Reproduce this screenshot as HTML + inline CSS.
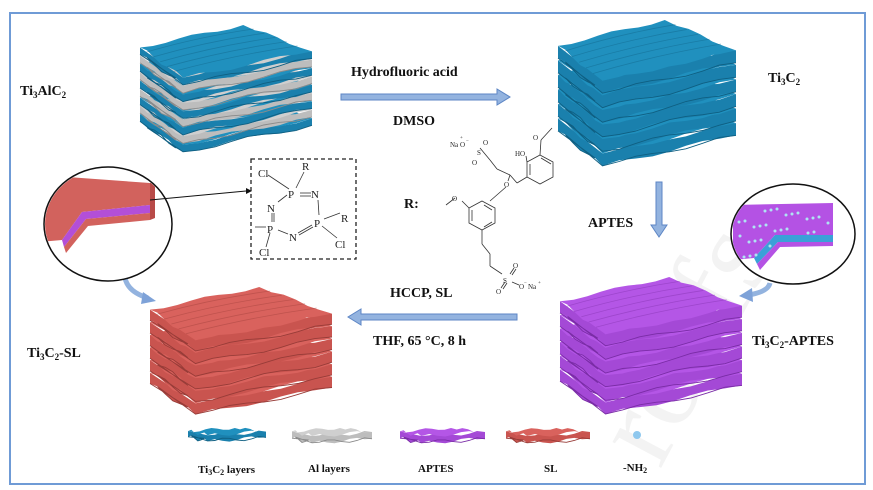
<!DOCTYPE html>
<html><head><meta charset="utf-8"><style>
html,body{margin:0;padding:0;background:#fff;}
svg{display:block;}
text{font-family:"Liberation Serif",serif;}
.b{font-weight:bold;font-size:14px;fill:#111;}
.s{font-family:"Liberation Sans",sans-serif;font-size:11px;fill:#222;}
.t{font-family:"Liberation Sans",sans-serif;font-size:7px;fill:#222;}
.lg{font-weight:bold;font-size:11px;fill:#111;}
</style></head><body>
<svg id="sv" width="873" height="490" viewBox="0 0 873 490" xmlns="http://www.w3.org/2000/svg">
<rect x="10" y="13" width="855" height="471" fill="#fff" stroke="#6f9bd6" stroke-width="2"/>
<text x="660" y="470" transform="rotate(-62 660 470)" font-family="Liberation Sans" font-size="120" fill="#f3f3f3">roofs</text>
<g id="stacks"></g>

<!-- labels -->
<text class="b" x="20" y="95">Ti<tspan font-size="9" dy="3">3</tspan><tspan dy="-3">AlC</tspan><tspan font-size="9" dy="3">2</tspan></text>
<text class="b" x="768" y="82">Ti<tspan font-size="9" dy="3">3</tspan><tspan dy="-3">C</tspan><tspan font-size="9" dy="3">2</tspan></text>
<text class="b" x="351" y="76">Hydrofluoric acid</text>
<text class="b" x="393" y="125">DMSO</text>
<text class="b" x="588" y="227">APTES</text>
<text class="b" x="390" y="297">HCCP, SL</text>
<text class="b" x="373" y="345">THF, 65 °C, 8 h</text>
<text class="b" x="27" y="357">Ti<tspan font-size="9" dy="3">3</tspan><tspan dy="-3">C</tspan><tspan font-size="9" dy="3">2</tspan><tspan dy="-3">-SL</tspan></text>
<text class="b" x="752" y="345">Ti<tspan font-size="9" dy="3">3</tspan><tspan dy="-3">C</tspan><tspan font-size="9" dy="3">2</tspan><tspan dy="-3">-APTES</tspan></text>
<text class="b" x="404" y="208" font-size="15">R:</text>

<!-- arrows -->
<g fill="#93b3df" stroke="#5d86c5" stroke-width="1">
<path d="M341,94 H497 V89 L510,97 L497,105 V100 H341 Z"/>
<path d="M517,314 H361 V309 L348,317 L361,325 V320 H517 Z"/>
<path d="M656,182 V225 H651 L659,237 L667,225 H662 V182 Z"/>
</g>
<path d="M125,278 Q128,292 148,298" fill="none" stroke="#93b3df" stroke-width="5"/>
<path d="M143,292 L156,301 L141,304 Z" fill="#7ea2d8"/>
<path d="M770,283 Q768,292 748,295" fill="none" stroke="#93b3df" stroke-width="5"/>
<path d="M752,288 L739,296 L753,302 Z" fill="#7ea2d8"/>

<!-- left circle -->
<ellipse cx="108" cy="224" rx="64" ry="57" fill="#fff" stroke="#111" stroke-width="1.5"/>
<clipPath id="c1"><ellipse cx="108" cy="224" rx="63" ry="56"/></clipPath>
<g clip-path="url(#c1)">
<path d="M40,175 L150,183 L150,205 L82,212 L62,240 L40,242 Z" fill="#d2625d"/>
<path d="M82,212 L150,205 L150,213 L86,219 L64,247 L62,240 Z" fill="#b34fd8"/>
<path d="M64,247 L86,219 L150,213 L150,220 L88,226 L66,253 Z" fill="#d2625d"/>
<path d="M150,183 L155,181 L155,218 L150,220 Z" fill="#b84a48"/>
</g>
<line x1="150" y1="200" x2="246" y2="191" stroke="#111" stroke-width="1"/>
<path d="M246,188 L252,191 L246,194 Z" fill="#111"/>

<!-- right circle -->
<ellipse cx="793" cy="234" rx="62" ry="50" fill="#fff" stroke="#111" stroke-width="1.5"/>
<clipPath id="c2"><ellipse cx="793" cy="234" rx="61" ry="49"/></clipPath>
<g clip-path="url(#c2)">
<path d="M733,205 L833,203 L833,235 L775,235 L754,258 L733,260 Z" fill="#b452e4"/>
<path d="M775,235 L833,235 L833,242 L778,242 L757,264 L754,258 Z" fill="#3aa0d8"/>
<path d="M757,264 L778,242 L833,242 L833,246 L780,247 L760,270 Z" fill="#b452e4"/>
<g fill="#aee4f2" id="dots"></g>
</g>

<!-- dashed box and HCCP -->
<rect x="251" y="159" width="105" height="100" fill="none" stroke="#222" stroke-width="1.3" stroke-dasharray="4,3"/>
<g stroke="#333" stroke-width="0.8" fill="none">
<line x1="268" y1="175" x2="289" y2="189"/><line x1="304" y1="172" x2="296" y2="188"/>
<line x1="300" y1="193" x2="311" y2="193"/><line x1="300" y1="196" x2="311" y2="196"/>
<line x1="287" y1="195" x2="278" y2="202"/><line x1="318" y1="200" x2="319" y2="215"/>
<line x1="272" y1="213" x2="272" y2="222"/><line x1="274" y1="213" x2="274" y2="222"/>
<line x1="278" y1="230" x2="288" y2="234"/><line x1="298" y1="233" x2="312" y2="225"/><line x1="299" y1="235" x2="313" y2="227"/>
<line x1="324" y1="219" x2="340" y2="213"/><line x1="322" y1="226" x2="337" y2="238"/>
<line x1="255" y1="227" x2="266" y2="227"/><line x1="270" y1="233" x2="266" y2="247"/>
</g>
<g class="s">
<text x="258" y="177">Cl</text><text x="302" y="170">R</text>
<text x="288" y="198">P</text><text x="305" y="198" dx="6">N</text>
<text x="267" y="212">N</text><text x="314" y="227">P</text><text x="341" y="222">R</text>
<text x="267" y="233">P</text><text x="289" y="241">N</text>
<text x="259" y="256">Cl</text><text x="335" y="248">Cl</text>
</g>

<!-- lignin structure -->
<g stroke="#333" stroke-width="0.8" fill="none">
<polygon points="540,155 553,162 553,177 540,184 527,177 527,162"/>
<line x1="541" y1="158" x2="551" y2="164"/><line x1="530" y1="175" x2="530" y2="164"/>
<line x1="540" y1="155" x2="541" y2="140"/><line x1="541" y1="140" x2="552" y2="128"/>
<line x1="527" y1="162" x2="526" y2="156"/>
<line x1="527" y1="177" x2="517" y2="183"/><line x1="517" y1="183" x2="510" y2="175"/>
<line x1="510" y1="175" x2="497" y2="169"/><line x1="497" y1="169" x2="490" y2="160"/>
<line x1="510" y1="175" x2="508" y2="181"/><line x1="506" y1="187" x2="490" y2="201"/>
<polygon points="482,201 495,208 495,223 482,230 469,223 469,208"/>
<line x1="484" y1="205" x2="492" y2="210"/><line x1="472" y1="221" x2="472" y2="210"/><line x1="484" y1="227" x2="492" y2="222"/>
<line x1="469" y1="208" x2="462" y2="201"/><line x1="455" y1="198" x2="446" y2="205"/>
<line x1="482" y1="230" x2="482" y2="244"/><line x1="482" y1="244" x2="490" y2="254"/>
<line x1="490" y1="254" x2="490" y2="266"/><line x1="490" y1="266" x2="502" y2="274"/>
<line x1="510" y1="274" x2="514" y2="268"/><line x1="512" y1="275" x2="516" y2="269"/>
<line x1="505" y1="282" x2="501" y2="288"/><line x1="507" y1="283" x2="503" y2="289"/>
<line x1="512" y1="282" x2="519" y2="285"/>
<line x1="480" y1="148" x2="490" y2="160"/>
</g>
<g class="t">
<text x="450" y="147">Na</text><text x="460" y="147">O</text><text x="466" y="142" font-size="5">−</text><text x="460" y="139" font-size="5">+</text>
<text x="477" y="155">S</text><text x="483" y="145">O</text><text x="472" y="165">O</text>
<text x="515" y="156">HO</text><text x="533" y="140">O</text>
<text x="504" y="187">O</text><text x="452" y="201">O</text>
<text x="503" y="283">S</text><text x="513" y="268">O</text><text x="496" y="294">O</text>
<text x="519" y="289">O</text><text x="524" y="284" font-size="5">−</text><text x="528" y="289">Na</text><text x="538" y="284" font-size="5">+</text>
</g>

<!-- legend -->
<g id="legend"></g>
<circle cx="637" cy="435" r="4" fill="#8fc8ee"/>
<g class="lg">
<text x="198" y="473">Ti<tspan font-size="8" dy="2">3</tspan><tspan dy="-2">C</tspan><tspan font-size="8" dy="2">2</tspan><tspan dy="-2"> layers</tspan></text>
<text x="308" y="472">Al layers</text>
<text x="418" y="472">APTES</text>
<text x="544" y="472">SL</text>
<text x="623" y="471">-NH<tspan font-size="8" dy="2">2</tspan></text>
</g>
</svg>
<script>
(function(){
var NS="http://www.w3.org/2000/svg";
var g=document.getElementById('stacks');
function P(d,f){var p=document.createElementNS(NS,'path');p.setAttribute('d',d);p.setAttribute('fill',f);return p;}
function edge(a,b,amp,ph,n){var out=[];for(var i=1;i<=n;i++){var t=i/n;var x=a[0]+(b[0]-a[0])*t,y=a[1]+(b[1]-a[1])*t;if(i<n)y+=amp*Math.sin(t*Math.PI*3+ph);out.push(x.toFixed(1)+','+y.toFixed(1));}return out;}
function stack(parent,ox,oy,w,h,cols,n,shade){
 var L=[ox,oy+0.17*h],B=[ox+0.6*w,oy],R=[ox+w,oy+0.2*h],F=[ox+0.25*w,oy+0.4*h];
 var d=h-0.4*h-4,p=d/n,t=p*0.85;
 for(var i=n-1;i>=0;i--){
  var c=cols[i%cols.length],yo=i*p;
  function s(q,e){return [q[0],q[1]+yo+(e||0)];}
  var ph=i*1.3;
  var top='M'+s(L).join(',')+' L'+edge(s(L),s(B),1.5,ph,8).join(' L')+' L'+edge(s(B),s(R),1.5,ph+1,6).join(' L')+' L'+edge(s(R),s(F),2,ph+2,8).join(' L')+' L'+edge(s(F),s(L),2,ph+3,6).join(' L')+'Z';
  var side='M'+s(L).join(',')+' L'+s(F).join(',')+' L'+edge(s(F),s(R),2,ph+2,8).join(' L')+' L'+s(R,t).join(',')+' L'+edge(s(R,t),s(F,t),2,ph+2,8).join(' L')+' L'+edge(s(F,t),s(L,t),2,ph+3,6).join(' L')+'Z';
  parent.appendChild(P(side,c[2]||c[0]));
  parent.appendChild(P(top,c[0]));
  if(i==0&&shade){
   for(var k=0;k<5;k++){
    var a=0.15+k*0.16;
    var x1=L[0]+(F[0]-L[0])*a,y1=L[1]+(F[1]-L[1])*a;
    var x2=B[0]+(R[0]-B[0])*a,y2=B[1]+(R[1]-B[1])*a;
    var pth=P('M'+x1+','+y1+' Q'+((x1+x2)/2)+','+((y1+y2)/2-4)+' '+x2+','+y2,'none');
    pth.setAttribute('stroke',c[1]);pth.setAttribute('stroke-width','0.8');pth.setAttribute('opacity','0.4');
    parent.appendChild(pth);
   }
  }
  // thin dark separation line along front edges
  var ln=P('M'+s(L,t).join(',')+' L'+edge(s(L,t),s(F,t),2,ph+3,6).reverse().slice(1).join(' L')+' L'+s(F,t).join(',')+' L'+edge(s(F,t),s(R,t),2,ph+2,8).join(' L'),'none');
  ln.setAttribute('stroke',c[1]);ln.setAttribute('stroke-width','0.9');
  parent.appendChild(ln);
 }
}
var blue=['#2090be','#0f5f82','#1a80ad'],gray=['#cfcfcf','#8a8a8a','#bdbdbd'],pur=['#b456e6','#7a2ca6','#a449d6'],red=['#d9625d','#983c38','#c9544f'];
stack(g,140,25,172,132,[blue,gray],9,true);
stack(g,558,20,178,152,[blue],6,true);
stack(g,150,287,182,133,[red],6,true);
stack(g,560,277,182,143,[pur],6,true);
var lg=document.getElementById('legend');
stack(lg,188,428,78,18,[blue],1,false);
stack(lg,292,428,80,20,[gray],1,false);
stack(lg,400,428,85,20,[pur],1,false);
stack(lg,506,428,84,20,[red],1,false);
var dots=document.getElementById('dots');
for(var i=0;i<40;i++){var c=document.createElementNS(NS,'circle');
 var x=738+((i*37)%95),y=208+((i*23)%50);
 if(x>775&&y>233)continue;
 c.setAttribute('cx',x);c.setAttribute('cy',y);c.setAttribute('r',1.5);dots.appendChild(c);}
})();
</script>
</body></html>
